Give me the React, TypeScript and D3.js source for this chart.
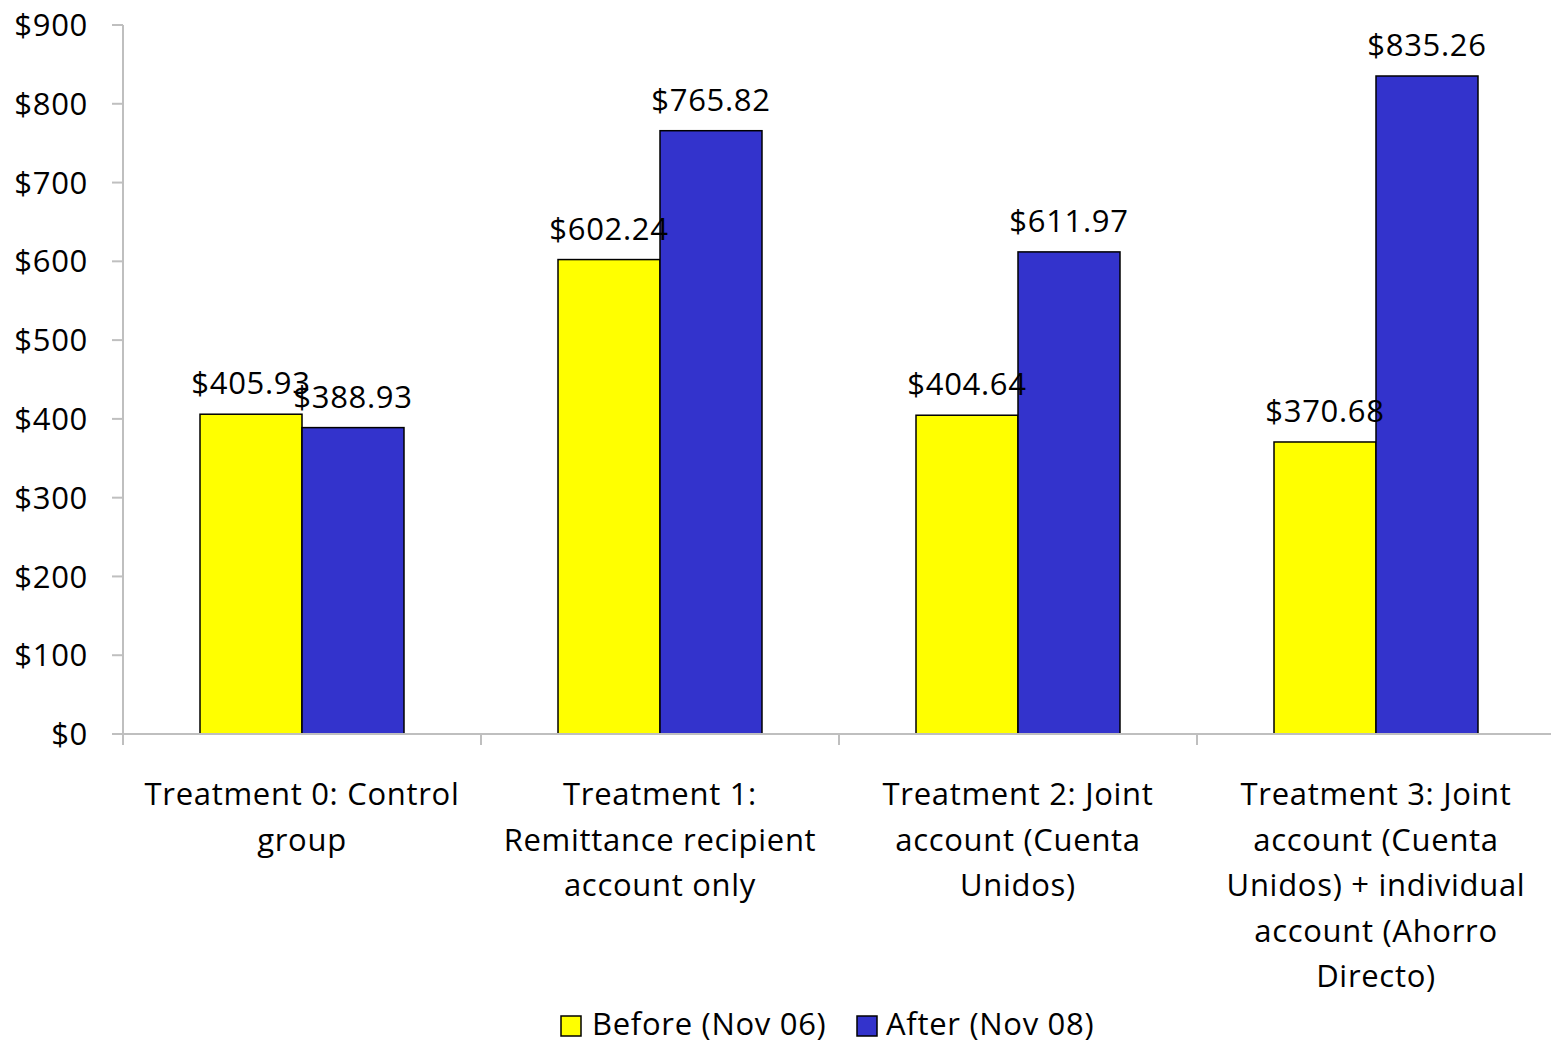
import React from "react";
import * as d3 from "d3";

const categories = [
  ["Treatment 0: Control", "group"],
  ["Treatment 1:", "Remittance recipient", "account only"],
  ["Treatment 2: Joint", "account (Cuenta", "Unidos)"],
  ["Treatment 3: Joint", "account (Cuenta", "Unidos) + individual", "account (Ahorro", "Directo)"],
];
const before = [405.93, 602.24, 404.64, 370.68];
const after = [388.93, 765.82, 611.97, 835.26];
const seriesNames = ["Before (Nov 06)", "After (Nov 08)"];
const seriesColors = ["#FFFF00", "#3333CC"];
const yTicks = [0, 100, 200, 300, 400, 500, 600, 700, 800, 900];

const W = 1551;
const H = 1044;
const left = 123;
const right = 1555;
const top = 25;
const bottom = 734;
const font = "'Open Sans', sans-serif";
const fs = 31;
const ls = 0.7;

export default function App() {
  const x = d3.scaleBand<number>().domain(d3.range(categories.length)).range([left, right]).paddingInner(0).paddingOuter(0);
  const y = d3.scaleLinear().domain([0, 900]).range([bottom, top]);
  const inner = d3.scaleBand<number>().domain([0, 1]).range([0, x.bandwidth()]).paddingOuter(0.755).paddingInner(0);
  const series = [before, after];
  const fmt = (v: number) => "$" + v.toFixed(2);
  const tp = { fontFamily: font, fontSize: fs, letterSpacing: ls, fill: "#000" };
  return (
    <svg width={W} height={H} style={{ position: "absolute", left: 0, top: 0, background: "#fff" }}>
      <line x1={left} x2={left} y1={top} y2={bottom} stroke="#BFBFBF" strokeWidth={2} />
      {yTicks.map((t) => (
        <g key={t}>
          <line x1={left - 11} x2={left} y1={y(t)} y2={y(t)} stroke="#BFBFBF" strokeWidth={2} />
          <text x={88} y={y(t)} dy="0.36em" textAnchor="end" {...tp}>
            {"$" + t}
          </text>
        </g>
      ))}
      {series.map((vals, si) =>
        vals.map((v, ci) => {
          const bx = (x(ci) as number) + (inner(si) as number);
          const bw = inner.bandwidth();
          return (
            <rect key={si + "-" + ci} x={bx} y={y(v)} width={bw} height={bottom - y(v)} fill={seriesColors[si]} stroke="#000" strokeWidth={1.5} />
          );
        })
      )}
      {series.map((vals, si) =>
        vals.map((v, ci) => {
          const bx = (x(ci) as number) + (inner(si) as number);
          const bw = inner.bandwidth();
          return (
            <text key={"l" + si + "-" + ci} x={bx + bw / 2} y={y(v) - 20} textAnchor="middle" {...tp}>
              {fmt(v)}
            </text>
          );
        })
      )}
      <line x1={left - 11} x2={W} y1={bottom} y2={bottom} stroke="#BFBFBF" strokeWidth={2} />
      {d3.range(categories.length + 1).map((i) => {
        const tx = left + i * x.bandwidth();
        return <line key={i} x1={tx} x2={tx} y1={bottom} y2={bottom + 11} stroke="#BFBFBF" strokeWidth={2} />;
      })}
      {categories.map((lines, ci) => (
        <text key={ci} textAnchor="middle" {...tp}>
          {lines.map((ln, li) => (
            <tspan key={li} x={(x(ci) as number) + x.bandwidth() / 2} y={805 + li * 45.5}>
              {ln}
            </tspan>
          ))}
        </text>
      ))}
      <g>
        <rect x={561} y={1016} width={20} height={20} fill={seriesColors[0]} stroke="#000" strokeWidth={1.5} />
        <text x={592} y={1035} {...tp}>{seriesNames[0]}</text>
        <rect x={857} y={1016} width={20} height={20} fill={seriesColors[1]} stroke="#000" strokeWidth={1.5} />
        <text x={886} y={1035} {...tp}>{seriesNames[1]}</text>
      </g>
    </svg>
  );
}
